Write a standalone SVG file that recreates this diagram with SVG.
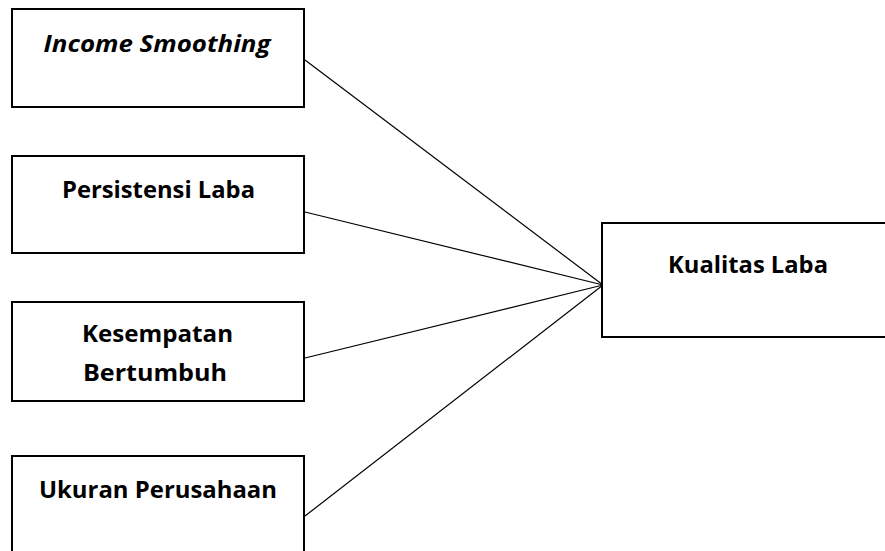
<svg xmlns="http://www.w3.org/2000/svg" width="885" height="551" viewBox="0 0 885 551">
<style>
.box{fill:#fff;stroke:#000;stroke-width:2}
.lbl{font-family:"Open Sans","Noto Sans","DejaVu Sans",sans-serif;font-weight:700;font-size:24px;fill:#000;text-anchor:middle}
.it{font-style:italic}
.conn line{stroke:#000;stroke-width:1.2}
</style>
<rect x="0" y="0" width="885" height="551" fill="#fff"/>
<g class="conn" id="connectors">
<line x1="305" y1="60" x2="603" y2="285"/>
<line x1="305" y1="212" x2="603" y2="285"/>
<line x1="305" y1="358" x2="603" y2="285"/>
<line x1="305" y1="516" x2="603" y2="285"/>
</g>
<g id="income-smoothing">
<rect class="box" x="12" y="9" width="292" height="98"/>
<text class="lbl it" x="157" y="52" textLength="227" lengthAdjust="spacingAndGlyphs">Income Smoothing</text>
</g>
<g id="persistensi-laba">
<rect class="box" x="12" y="156" width="292" height="97"/>
<text class="lbl" x="158.5" y="198" textLength="193" lengthAdjust="spacingAndGlyphs">Persistensi Laba</text>
</g>
<g id="kesempatan-bertumbuh">
<rect class="box" x="12" y="302" width="292" height="99"/>
<text class="lbl" x="157.5" y="342" textLength="151" lengthAdjust="spacingAndGlyphs">Kesempatan</text>
<text class="lbl" x="155" y="381" textLength="144" lengthAdjust="spacingAndGlyphs">Bertumbuh</text>
</g>
<g id="ukuran-perusahaan">
<rect class="box" x="12" y="456" width="292" height="120"/>
<text class="lbl" x="158" y="498" textLength="238" lengthAdjust="spacingAndGlyphs">Ukuran Perusahaan</text>
</g>
<g id="kualitas-laba">
<rect class="box" x="602" y="223" width="300" height="114"/>
<text class="lbl" x="748" y="273" textLength="160" lengthAdjust="spacingAndGlyphs">Kualitas Laba</text>
</g>
</svg>
